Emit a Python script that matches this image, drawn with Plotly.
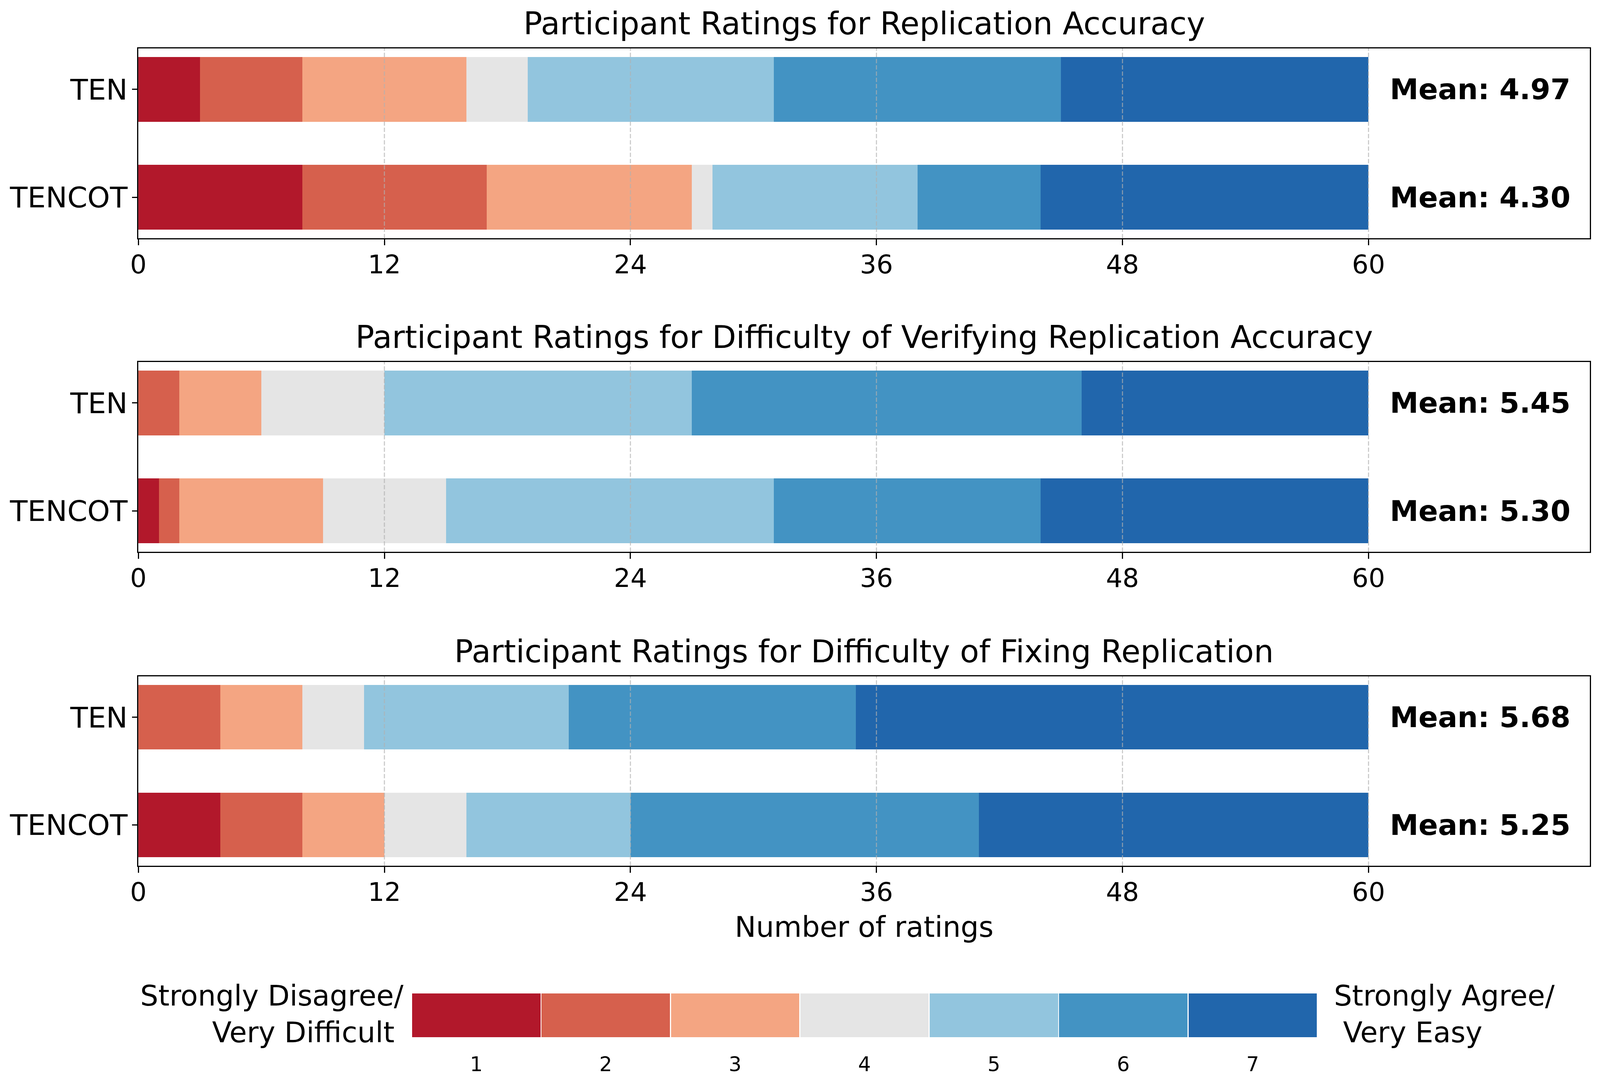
import plotly.graph_objects as go

# ---------------- data ----------------
categories = ["TEN", "TENCOT"]
rating_levels = [1, 2, 3, 4, 5, 6, 7]
x_ticks = [0, 12, 24, 36, 48, 60]

panel_titles = [
    "Participant Ratings for Replication Accuracy",
    "Participant Ratings for Difficulty of Verifying Replication Accuracy",
    "Participant Ratings for Difficulty of Fixing Replication",
]

accuracy_ten = [3, 5, 8, 3, 12, 14, 15]
accuracy_tencot = [8, 9, 10, 1, 10, 6, 16]
verify_ten = [0, 2, 4, 6, 15, 19, 14]
verify_tencot = [1, 1, 7, 6, 16, 13, 16]
fixing_ten = [0, 4, 4, 3, 10, 14, 25]
fixing_tencot = [4, 4, 4, 4, 8, 17, 19]

left_label = ["Strongly Disagree/", "Very Difficult\u00a0"]
right_label = ["Strongly Agree/", "\u00a0Very Easy"]
x_label = "Number of ratings"

colors = ["#b2182b", "#d6604d", "#f4a582", "#e5e5e5", "#92c5de", "#4393c3", "#2166ac"]

# ---------------- layout helpers ----------------
W_REF, H_REF = 4614, 2781          # reference geometry (positions measured here)
W_OUT, H_OUT = 4096, 2781          # browser viewport actually available
S = W_OUT / W_REF                  # horizontal / font scale
FONT = "DejaVu Sans"


def fx(p):
    return p / W_REF


def fy(p):
    return 1 - p / H_REF


def fs(v):
    return round(v * S, 1)


X0, X1 = 399, 4585
panel_px = [(124, 610), (927, 1413), (1732, 2217)]
panel_data = [
    (accuracy_ten, accuracy_tencot),
    (verify_ten, verify_tencot),
    (fixing_ten, fixing_tencot),
]

fig = go.Figure()
layout = dict(
    width=W_OUT,
    height=H_OUT,
    autosize=False,
    margin=dict(l=0, r=0, t=0, b=0, pad=0),
    paper_bgcolor="white",
    plot_bgcolor="white",
    barmode="stack",
    showlegend=False,
    font=dict(family=FONT, color="black"),
)
annotations = []
shapes = []

for k, ((ten, tencot), (top, bot), title) in enumerate(zip(panel_data, panel_px, panel_titles)):
    idx = "" if k == 0 else str(k + 1)
    xa, ya = "x" + idx, "y" + idx
    for r in range(len(rating_levels)):
        fig.add_trace(
            go.Bar(
                x=[ten[r], tencot[r]],
                y=categories,
                orientation="h",
                width=0.6,
                marker=dict(color=colors[r], line=dict(width=0)),
                xaxis=xa,
                yaxis=ya,
                hoverinfo="skip",
            )
        )
    layout["xaxis" + idx] = dict(
        domain=[fx(X0), fx(X1)],
        anchor=ya,
        range=[0, 70.8],
        tickvals=x_ticks,
        ticktext=[str(t) for t in x_ticks],
        ticks="outside",
        ticklen=15,
        tickwidth=fs(3),
        tickcolor="black",
        ticklabelstandoff=-8,
        tickfont=dict(size=fs(75), family=FONT, color="black"),
        showline=True,
        mirror=True,
        linecolor="black",
        linewidth=3,
        showgrid=False,
        zeroline=False,
        automargin=False,
    )
    layout["yaxis" + idx] = dict(
        domain=[fy(bot), fy(top)],
        anchor=xa,
        type="category",
        categoryorder="array",
        categoryarray=categories,
        range=[1.38, -0.38],
        ticks="outside",
        ticklen=13,
        tickwidth=3,
        tickcolor="black",
        ticklabelstandoff=-3,
        tickfont=dict(size=fs(83), family=FONT, color="black"),
        showline=True,
        mirror=True,
        linecolor="black",
        linewidth=fs(3),
        showgrid=False,
        zeroline=False,
        automargin=False,
    )
    for t in x_ticks:
        if t == 0:
            continue
        shapes.append(
            dict(
                type="line",
                xref=xa,
                yref=ya + " domain",
                x0=t,
                x1=t,
                y0=0,
                y1=1,
                line=dict(color="rgba(176,176,176,0.7)", width=fs(3), dash="11px,5px"),
                layer="above",
            )
        )
    annotations.append(
        dict(
            text=title,
            xref="paper",
            yref="paper",
            x=fx((X0 + X1) / 2),
            y=fy(top - 64),
            xanchor="center",
            yanchor="middle",
            showarrow=False,
            font=dict(size=fs(90), family=FONT, color="black"),
        )
    )
    for cat, counts in zip(categories, (ten, tencot)):
        mean = sum(l * c for l, c in zip(rating_levels, counts)) / sum(counts)
        annotations.append(
            dict(
                text="<b>Mean: %.2f</b>" % mean,
                xref=xa,
                yref=ya,
                x=61,
                y=cat,
                xanchor="left",
                yanchor="middle",
                showarrow=False,
                font=dict(size=fs(83), family=FONT, color="black"),
            )
        )

# x label
annotations.append(
    dict(
        text=x_label,
        xref="paper",
        yref="paper",
        x=fx((X0 + X1) / 2),
        y=fy(2373),
        xanchor="center",
        yanchor="middle",
        showarrow=False,
        font=dict(size=fs(82), family=FONT, color="black"),
    )
)

# rating-scale legend
fig.add_trace(
    go.Bar(
        x=rating_levels,
        y=[1] * len(rating_levels),
        width=1,
        marker=dict(color=colors, line=dict(color="white", width=fs(3))),
        xaxis="x4",
        yaxis="y4",
        hoverinfo="skip",
    )
)
LB0, LB1, LT, LBt = 1187, 3799, 2543, 2657
layout["xaxis4"] = dict(
    domain=[fx(LB0), fx(LB1)],
    anchor="y4",
    range=[0.5, 7.5],
    tickvals=rating_levels,
    ticktext=[str(v) for v in rating_levels],
    ticks="",
    ticklabelstandoff=33,
    tickfont=dict(size=fs(58), family=FONT, color="black"),
    showline=False,
    showgrid=False,
    zeroline=False,
    automargin=False,
)
layout["yaxis4"] = dict(
    domain=[fy(LBt), fy(LT)],
    anchor="x4",
    range=[0, 1],
    visible=False,
)
for line, yc in zip(left_label, (2549, 2643)):
    annotations.append(
        dict(
            text=line,
            xref="paper",
            yref="paper",
            x=fx(1166),
            y=fy(yc),
            xanchor="right",
            yanchor="middle",
            showarrow=False,
            font=dict(size=fs(82), family=FONT, color="black"),
        )
    )
for line, yc in zip(right_label, (2549, 2643)):
    annotations.append(
        dict(
            text=line,
            xref="paper",
            yref="paper",
            x=fx(3845),
            y=fy(yc),
            xanchor="left",
            yanchor="middle",
            showarrow=False,
            font=dict(size=fs(82), family=FONT, color="black"),
        )
    )

layout["annotations"] = annotations
layout["shapes"] = shapes
fig.update_layout(**layout)

# if the viewport is smaller than the figure, shrink it uniformly to fit
fit_script = """
(function(){
  var gd = document.getElementById('{plot_id}');
  function fit(){
    var k = Math.min(1, window.innerWidth / %d, window.innerHeight / %d);
    document.documentElement.style.margin = '0';
    document.documentElement.style.overflow = 'hidden';
    document.body.style.margin = '0';
    document.body.style.overflow = 'hidden';
    gd.style.position = 'absolute';
    gd.style.left = '0px';
    gd.style.top = '0px';
    gd.style.transformOrigin = '0 0';
    gd.style.transform = 'scale(' + k + ')';
  }
  fit();
  window.addEventListener('resize', fit);
})();
""" % (W_OUT, H_OUT)

fig.write_html("out.html", post_script=fit_script, config={"displayModeBar": False})
